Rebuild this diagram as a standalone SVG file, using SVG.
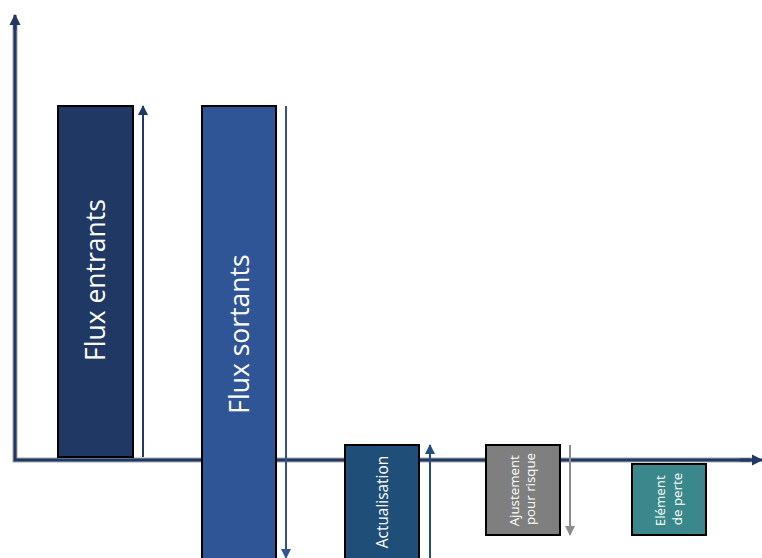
<svg xmlns="http://www.w3.org/2000/svg" width="762" height="558" viewBox="0 0 762 558">
  <style>
    .box { stroke: #000000; stroke-width: 2; }
    .lbl { fill: #ffffff; font-family: "Open Sans", "Liberation Sans", Arial, sans-serif; text-anchor: middle; }
    .big { font-size: 26.5px; }
    .mid { font-size: 15.4px; }
    .small { font-size: 13.3px; }
    .axis-edge { stroke: #a6a6a6; stroke-width: 5; fill: none; }
    .axis { stroke: #203864; stroke-width: 3; fill: none; }
  </style>
  <defs>
    <marker id="axisHead" viewBox="0 0 10 10" refX="9" refY="5" markerWidth="3.8" markerHeight="3.8" markerUnits="strokeWidth" orient="auto">
      <path d="M0,0 L10,5 L0,10 Z" fill="#203864"/>
    </marker>
    <marker id="headDark" viewBox="0 0 10 10" refX="9" refY="5" markerWidth="5" markerHeight="5" markerUnits="strokeWidth" orient="auto">
      <path d="M0,0 L10,5 L0,10 Z" fill="#203864"/>
    </marker>
    <marker id="headMid" viewBox="0 0 10 10" refX="9" refY="5" markerWidth="5" markerHeight="5" markerUnits="strokeWidth" orient="auto">
      <path d="M0,0 L10,5 L0,10 Z" fill="#2F5597"/>
    </marker>
    <marker id="headNavy" viewBox="0 0 10 10" refX="9" refY="5" markerWidth="5" markerHeight="5" markerUnits="strokeWidth" orient="auto">
      <path d="M0,0 L10,5 L0,10 Z" fill="#1F4E79"/>
    </marker>
    <marker id="headGray" viewBox="0 0 10 10" refX="9" refY="5" markerWidth="5" markerHeight="5" markerUnits="strokeWidth" orient="auto">
      <path d="M0,0 L10,5 L0,10 Z" fill="#8c8c8c"/>
    </marker>
  </defs>

  <!-- axes -->
  <g id="axes">
    <polyline class="axis-edge" points="15,22 15,460 752,460"/>
    <polyline class="axis" points="15,24 15,460 750,460"/>
    <line class="axis" x1="15" y1="30" x2="15" y2="15" marker-end="url(#axisHead)"/>
    <line class="axis" x1="740" y1="460" x2="762" y2="460" marker-end="url(#axisHead)"/>
  </g>

  <!-- bars -->
  <g id="flux-entrants">
    <rect class="box" x="58" y="106" width="75" height="351" fill="#203864"/>
    <text class="lbl big" transform="translate(96,280) rotate(-90)" dy="0.35em">Flux entrants</text>
  </g>
  <g id="flux-sortants">
    <rect class="box" x="202" y="106" width="74" height="460" fill="#2F5597"/>
    <text class="lbl big" transform="translate(240,334) rotate(-90)" dy="0.35em">Flux sortants</text>
  </g>
  <g id="actualisation">
    <rect class="box" x="345" y="445" width="74" height="120" fill="#1F4E79"/>
    <text class="lbl mid" transform="translate(383,502) rotate(-90)" dy="0.35em">Actualisation</text>
  </g>
  <g id="ajustement">
    <rect class="box" x="486" y="445" width="74" height="90" fill="#7F7F7F"/>
    <text class="lbl small" transform="translate(523,489) rotate(-90)">
      <tspan x="0" y="-4">Ajustement</tspan>
      <tspan x="0" y="12">pour risque</tspan>
    </text>
  </g>
  <g id="element-perte">
    <rect class="box" x="632" y="464" width="74" height="71" fill="#3A888B"/>
    <text class="lbl small" transform="translate(669,499) rotate(-90)">
      <tspan x="0" y="-4">Elément</tspan>
      <tspan x="0" y="13">de perte</tspan>
    </text>
  </g>

  <!-- variation arrows -->
  <g id="connectors" fill="none" stroke-width="2">
    <line x1="143" y1="457" x2="143" y2="106" stroke="#203864" marker-end="url(#headDark)"/>
    <line x1="286" y1="106" x2="286" y2="558" stroke="#2F5597" marker-end="url(#headMid)"/>
    <line x1="430" y1="560" x2="430" y2="445" stroke="#1F4E79" marker-end="url(#headNavy)"/>
    <line x1="570" y1="445" x2="570" y2="535" stroke="#8c8c8c" marker-end="url(#headGray)"/>
  </g>
</svg>
